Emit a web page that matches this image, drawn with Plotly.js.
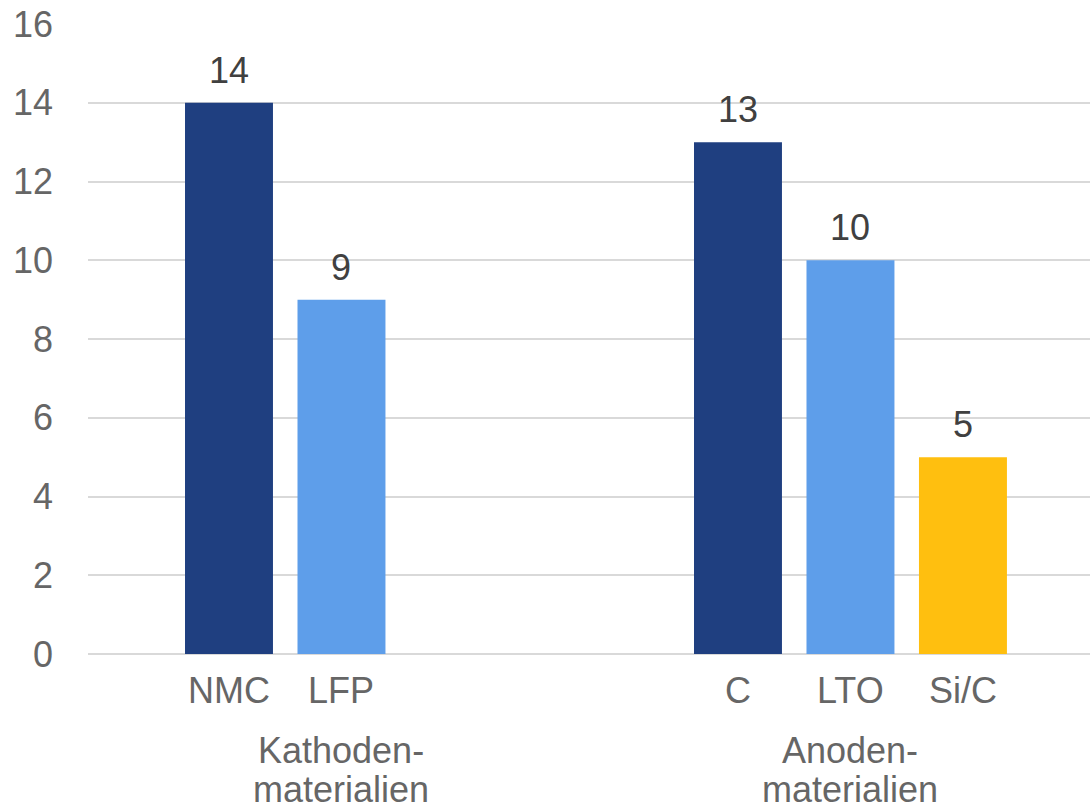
<!DOCTYPE html>
<html>
<head>
<meta charset="utf-8">
<script src="https://cdn.plot.ly/plotly-3.0.1.min.js"></script>
<style>html,body{margin:0;padding:0;background:#fff}#chart{width:1090px;height:808px}</style>
</head>
<body>
<div id="chart"></div>
<script>
// Data
const groups = ["Kathoden-", "Anoden-"];
const groupsLine2 = ["materialien", "materialien"];
const series1Labels = ["NMC", "C"];
const series1Values = [14, 13];
const series2Labels = ["LFP", "LTO"];
const series2Values = [9, 10];
const series3Labels = [null, "Si/C"];
const series3Values = [null, 5];
const yTicks = [0, 2, 4, 6, 8, 10, 12, 14, 16];

const colors = ["#1F3F80", "#5E9EEA", "#FFBF0F"];
const FONT = "Liberation Sans, Arial, sans-serif";
const AXIS_TEXT = "#666666";
const bargap = 0.337;
const nSeries = 3;
const slot = (1 - bargap) / nSeries;

const seriesLabels = [series1Labels, series2Labels, series3Labels];
const seriesValues = [series1Values, series2Values, series3Values];

const traces = seriesValues.map((vals, s) => ({
  type: "bar",
  x: groups.map((g, i) => i),
  y: vals,
  marker: {color: colors[s]},
  hoverinfo: "skip",
  showlegend: false
}));

const annotations = [];
seriesValues.forEach((vals, s) => {
  vals.forEach((v, i) => {
    if (v === null) return;
    const xpos = i + (s - (nSeries - 1) / 2) * slot;
    annotations.push({
      x: xpos, y: v, xref: "x", yref: "y", text: String(v),
      showarrow: false, yanchor: "bottom", yshift: 10,
      font: {family: FONT, size: 36, color: "#404040"}
    });
    annotations.push({
      x: xpos, y: 0, xref: "x", yref: "y", text: seriesLabels[s][i],
      showarrow: false, yanchor: "top", yshift: -14,
      font: {family: FONT, size: 36, color: AXIS_TEXT}
    });
  });
});
groups.forEach((g, i) => {
  annotations.push({
    x: i, y: 0, xref: "x", yref: "y", text: g,
    showarrow: false, yanchor: "top", yshift: -74,
    font: {family: FONT, size: 36, color: AXIS_TEXT}
  });
  annotations.push({
    x: i, y: 0, xref: "x", yref: "y", text: groupsLine2[i],
    showarrow: false, yanchor: "top", yshift: -113,
    font: {family: FONT, size: 36, color: AXIS_TEXT}
  });
});

const layout = {
  width: 1090, height: 808,
  margin: {l: 88, r: 0, t: 24, b: 154},
  paper_bgcolor: "#fff", plot_bgcolor: "#fff",
  barmode: "group", bargap: bargap, bargroupgap: 0.218,
  font: {family: FONT, size: 36, color: AXIS_TEXT},
  xaxis: {
    type: "linear", range: [-0.498, 1.4706],
    showticklabels: false, showgrid: false, zeroline: false,
    showline: false, ticks: "", fixedrange: true
  },
  yaxis: {
    range: [0, 16], tickvals: yTicks, ticktext: yTicks.map(String),
    showgrid: true, gridcolor: "#D9D9D9", gridwidth: 2,
    zeroline: true, zerolinecolor: "#D9D9D9", zerolinewidth: 2,
    showline: false, ticks: "", ticklabelstandoff: 34,
    tickfont: {family: FONT, size: 36, color: AXIS_TEXT}
  },
  annotations: annotations
};

Plotly.newPlot("chart", traces, layout, {displayModeBar: false, staticPlot: true});
</script>
</body>
</html>
